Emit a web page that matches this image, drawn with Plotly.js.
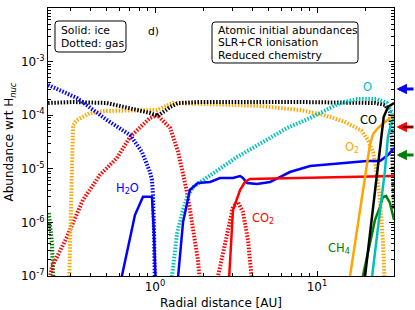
<!DOCTYPE html>
<html>
<head>
<meta charset="utf-8">
<script src="https://cdn.plot.ly/plotly-3.0.1.min.js"></script>
<style>html,body{margin:0;padding:0;background:#fff;}#chart{width:415px;height:310px;}</style>
</head>
<body>
<div id="chart"></div>
<script>
// ---- Data (radial distance in AU, abundance wrt H_nuc) ----
// Gas phase (dotted)
const h2oGasX = [0.219, 0.330, 0.505, 0.701, 0.831, 0.931, 0.958, 0.972, 0.986, 1.0];
const h2oGasY = [3.66e-4, 2.09e-4, 8.13e-5, 4.27e-5, 2.06e-5, 8.7e-6, 6.18e-6, 3.25e-6, 7.21e-7, 5e-8];

const coGasX = [0.219, 0.312, 0.505, 0.701, 0.931, 1.04, 1.24, 1.39, 1.90, 7.86, 18.4, 22.8, 26.3, 28.2, 29.0, 29.9];
const coGasY = [1.69e-4, 1.76e-4, 1.69e-4, 1.36e-4, 1.10e-4, 9.66e-5, 1.42e-4, 1.69e-4, 1.76e-4, 1.76e-4, 1.76e-4, 1.69e-4, 1.55e-4, 1.15e-4, 3.44e-5, 1.70e-6];

const o2GasX = [0.294, 0.307, 0.312, 0.330, 0.397, 0.505, 0.808, 1.03, 1.29, 1.90, 4.45, 7.86, 11.0, 14.9, 18.9, 20.6, 22.2, 23.1, 24.5, 25.5, 26.3];
const o2GasY = [5e-8, 6.18e-6, 6.56e-5, 8.13e-5, 1.10e-4, 1.20e-4, 1.25e-4, 1.25e-4, 1.69e-4, 1.62e-4, 1.49e-4, 1.25e-4, 1.01e-4, 7.46e-5, 5.1e-5, 3.44e-5, 2.06e-5, 1.04e-5, 2.62e-6, 4.7e-7, 5e-8];

const co2GasX = [0.222, 0.231, 0.286, 0.359, 0.457, 0.582, 0.701, 0.931, 1.03, 1.24, 1.39, 1.58, 1.72, 1.84, 1.92];
const co2GasY = [8e-8, 1.47e-7, 5.35e-7, 2.62e-6, 7.66e-6, 1.59e-5, 3.92e-5, 8.87e-5, 1.01e-4, 5.77e-5, 2.06e-5, 3.54e-6, 7.21e-7, 1.99e-7, 5e-8];

const co2Gas2X = [2.41, 2.74, 3.03, 3.25, 3.49, 3.75, 3.97];
const co2Gas2Y = [8e-8, 4.7e-7, 1.94e-6, 2.40e-6, 1.56e-6, 4.7e-7, 8e-8];

const oGasX = [1.24, 1.37, 1.47, 1.58, 1.72, 1.98, 2.52, 3.21, 5.13, 6.53, 9.06, 10.4, 13.9, 17.7, 23.5, 27.0, 29.0, 29.9];
const oGasY = [5e-8, 6.34e-7, 1.50e-6, 2.98e-6, 4.57e-6, 6.18e-6, 1.03e-5, 1.66e-5, 3.76e-5, 5.77e-5, 8.87e-5, 1.10e-4, 1.69e-4, 2.0e-4, 2.0e-4, 1.69e-4, 1.10e-4, 4.27e-5];

const ch4GasX = [0.221, 0.231, 0.238];
const ch4GasY = [1.50e-6, 4.13e-7, 5e-8];

// Ice phase (solid)
const h2oIce1X = [0.620, 0.752, 0.843, 0.958, 0.986, 1.014];
const h2oIce1Y = [9e-8, 1.37e-6, 3.0e-6, 3.0e-6, 5.8e-7, 5e-8];

const h2oIce2X = [1.39, 1.49, 1.58, 1.64, 1.84, 2.19, 2.52, 3.03, 3.35, 3.49, 3.70, 4.26, 5.13, 5.91, 6.81, 9.06, 13.9, 20.3, 24.5, 27.4, 29.9];
const h2oIce2Y = [1e-7, 1.02e-6, 2.30e-6, 4.02e-6, 5.43e-6, 5.67e-6, 6.73e-6, 6.73e-6, 7.34e-6, 6.73e-6, 5.43e-6, 5.2e-6, 5.67e-6, 7.03e-6, 8.7e-6, 1.13e-5, 1.28e-5, 1.40e-5, 1.40e-5, 1.81e-5, 2.44e-5];

const co2IceX = [2.86, 3.03, 3.35, 3.59, 3.86, 7.86, 16.0, 29.9];
const co2IceY = [8e-8, 1.70e-6, 4.02e-6, 5.67e-6, 6.45e-6, 6.73e-6, 7.03e-6, 7.34e-6];

const o2IceX = [16.0, 17.9, 19.2, 20.3, 21.2, 22.2, 23.8, 26.3, 29.9];
const o2IceY = [1e-7, 8.93e-7, 3.54e-6, 1.08e-5, 2.78e-5, 4.46e-5, 5.77e-5, 7.46e-5, 1.01e-4];

const coIceX = [19.8, 25.8, 27.4, 29.9];
const coIceY = [1e-7, 9.25e-5, 1.42e-4, 1.69e-4];

const oIceX = [21.9, 26.3, 27.4, 28.6, 29.9];
const oIceY = [1e-7, 9.5e-6, 3.92e-5, 6.86e-5, 8.87e-5];

const ch4IceX = [19.2, 21.2, 22.8, 24.5, 25.5, 26.7, 28.2, 29.9];
const ch4IceY = [1e-7, 4.13e-7, 1.11e-6, 1.94e-6, 2.98e-6, 3.11e-6, 2.30e-6, 1.11e-6];

// Reference abundance arrows on the right
const arrowVals = [3.08e-4, 6.03e-5, 1.81e-5];
const arrowColors = ['#0000ff', '#ff0000', '#008000'];

const xTickVals = [1, 10];
const xTickText = ['10<sup>0</sup>', '10<sup>1</sup>'];
const yTickVals = [1e-7, 1e-6, 1e-5, 1e-4, 1e-3, 1e-2];
const yTickText = ['10<sup>-7</sup>', '10<sup>-6</sup>', '10<sup>-5</sup>', '10<sup>-4</sup>', '10<sup>-3</sup>', '10<sup>-2</sup>'];

const box1Lines = ['Solid: ice', 'Dotted: gas'];
const box2Lines = ['Atomic initial abundances', 'SLR+CR ionisation', 'Reduced chemistry'];

// ---- Build ----
const BLUE = '#0000ff', RED = '#ff0000', ORANGE = '#ffa500', BLACK = '#000000', CYAN = '#00bfbf', GREEN = '#008000';
function dotted(x, y, c) {
  return {x: x, y: y, type: 'scatter', mode: 'lines', line: {color: c, width: 4, dash: '1.5px,1.6px'}, hoverinfo: 'skip'};
}
function solid(x, y, c) {
  return {x: x, y: y, type: 'scatter', mode: 'lines', line: {color: c, width: 2.5}, hoverinfo: 'skip'};
}
const traces = [
  dotted(ch4GasX, ch4GasY, GREEN),
  dotted(co2GasX, co2GasY, RED),
  dotted(co2Gas2X, co2Gas2Y, RED),
  dotted(o2GasX, o2GasY, ORANGE),
  dotted(coGasX, coGasY, BLACK),
  dotted(h2oGasX, h2oGasY, BLUE),
  dotted(oGasX, oGasY, CYAN),
  solid(h2oIce1X, h2oIce1Y, BLUE),
  solid(h2oIce2X, h2oIce2Y, BLUE),
  solid(co2IceX, co2IceY, RED),
  solid(ch4IceX, ch4IceY, GREEN),
  solid(o2IceX, o2IceY, ORANGE),
  solid(coIceX, coIceY, BLACK),
  solid(oIceX, oIceY, CYAN)
];

function minorVals(lo, hi) {
  const v = [];
  for (let k = lo; k < hi; k++) for (let m = 2; m <= 9; m++) v.push(m * Math.pow(10, k));
  return v;
}

const F = 'DejaVu Sans, Liberation Sans, sans-serif';
function label(x, y, text, color) {
  return {xref: 'paper', yref: 'paper', x: x, y: y, xanchor: 'center', yanchor: 'middle', text: text,
    showarrow: false, font: {color: color, size: 11.5, family: F}};
}
function lineText(x, y, text) {
  return {xref: 'paper', yref: 'paper', x: x, y: y, xanchor: 'left', yanchor: 'middle', text: text,
    showarrow: false, font: {color: '#000', size: 10.8, family: F}};
}
function roundRect(x0, y0, x1, y1) {
  const rx = 0.009, ry = 0.012;
  const p = 'M' + (x0 + rx) + ',' + y0 + ' L' + (x1 - rx) + ',' + y0 + ' Q' + x1 + ',' + y0 + ' ' + x1 + ',' + (y0 + ry) +
    ' L' + x1 + ',' + (y1 - ry) + ' Q' + x1 + ',' + y1 + ' ' + (x1 - rx) + ',' + y1 +
    ' L' + (x0 + rx) + ',' + y1 + ' Q' + x0 + ',' + y1 + ' ' + x0 + ',' + (y1 - ry) +
    ' L' + x0 + ',' + (y0 + ry) + ' Q' + x0 + ',' + y0 + ' ' + (x0 + rx) + ',' + y0 + ' Z';
  return {type: 'path', xref: 'paper', yref: 'paper', path: p, line: {color: '#000', width: 1}, fillcolor: '#fff', layer: 'above'};
}

const annotations = [
  label(0.231, 0.328, 'H<sub>2</sub>O', BLUE),
  label(0.621, 0.216, 'CO<sub>2</sub>', RED),
  label(0.841, 0.104, 'CH<sub>4</sub>', GREEN),
  label(0.879, 0.481, 'O<sub>2</sub>', ORANGE),
  label(0.925, 0.582, 'CO', BLACK),
  label(0.922, 0.705, 'O', CYAN),
  {xref: 'paper', yref: 'paper', x: 0.306, y: 0.914, xanchor: 'center', yanchor: 'middle', text: 'd)', showarrow: false,
   font: {size: 10.8, family: F, color: '#000'}}
];
const box1Y = [0.9160, 0.8683];
box1Lines.forEach(function (t, i) { annotations.push(lineText(0.0318, box1Y[i], t)); });
const box2Y = [0.9160, 0.8701, 0.8246];
box2Lines.forEach(function (t, i) { annotations.push(lineText(0.4855, box2Y[i], t)); });

arrowVals.forEach(function (v, i) {
  annotations.push({xref: 'paper', yref: 'y', x: 1.007, y: Math.log10(v), text: '', showarrow: true,
    arrowhead: 2, arrowsize: 0.7, arrowwidth: 3, arrowcolor: arrowColors[i], ax: 20, ay: 0, standoff: 0});
});
annotations.push({xref: 'paper', yref: 'y', x: 1.025, y: Math.log10(arrowVals[1]), text: '', showarrow: true,
  arrowhead: 0, arrowwidth: 1, arrowcolor: '#000', ax: 12, ay: 0, standoff: 0});

const shapes = [
  roundRect(0.0202, 0.8358, 0.2254, 0.9515),
  roundRect(0.474, 0.7948, 0.896, 0.9478)
];

const layout = {
  width: 415, height: 310,
  margin: {l: 48, r: 21, t: 8, b: 34},
  paper_bgcolor: '#fff', plot_bgcolor: '#fff',
  showlegend: false,
  font: {family: F, size: 12, color: '#000'},
  xaxis: {
    type: 'log', range: [-0.6605, 1.4753],
    tickmode: 'array', tickvals: xTickVals, ticktext: xTickText,
    ticks: 'inside', ticklen: 5, tickwidth: 1, tickcolor: '#000',
    showline: true, linecolor: '#000', linewidth: 1, mirror: 'allticks',
    showgrid: false, zeroline: false,
    tickfont: {size: 12, family: F},
    minor: {tickmode: 'array', tickvals: minorVals(-1, 2), ticks: 'inside', ticklen: 3, tickcolor: '#000', showgrid: false},
    title: {text: 'Radial distance [AU]', font: {size: 12, family: F}, standoff: 6}
  },
  yaxis: {
    type: 'log', range: [-7, -2],
    tickmode: 'array', tickvals: yTickVals, ticktext: yTickText,
    ticks: 'inside', ticklen: 5, tickwidth: 1, tickcolor: '#000',
    showline: true, linecolor: '#000', linewidth: 1, mirror: 'allticks',
    showgrid: false, zeroline: false,
    tickfont: {size: 12, family: F},
    minor: {tickmode: 'array', tickvals: minorVals(-7, -2), ticks: 'inside', ticklen: 3, tickcolor: '#000', showgrid: false},
    title: {text: 'Abundance wrt H<sub><i>nuc</i></sub>', font: {size: 12, family: F}, standoff: 4}
  },
  shapes: shapes,
  annotations: annotations
};

Plotly.newPlot('chart', traces, layout, {staticPlot: true, displayModeBar: false});
</script>
</body>
</html>
